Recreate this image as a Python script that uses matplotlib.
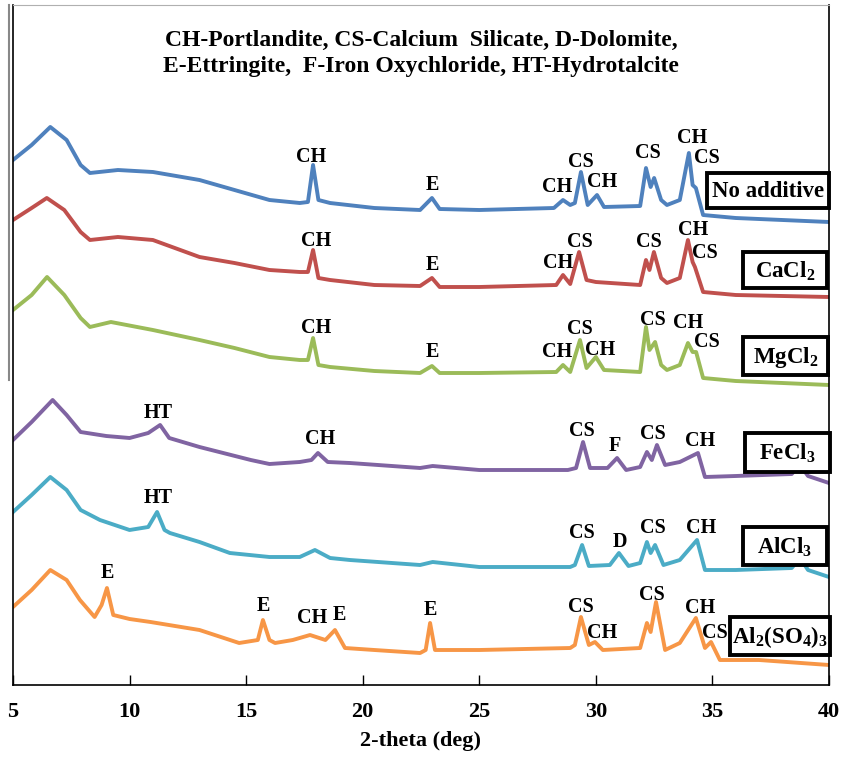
import matplotlib
matplotlib.use("Agg")
import matplotlib.pyplot as plt
from matplotlib.patches import Rectangle
from matplotlib.lines import Line2D

plt.rcParams['font.family'] = ['Liberation Serif', 'DejaVu Serif']
plt.rcParams['font.weight'] = 'bold'
plt.rcParams['mathtext.fontset'] = 'custom'
plt.rcParams['mathtext.rm'] = 'Liberation Serif:bold'
plt.rcParams['mathtext.bf'] = 'Liberation Serif:bold'

# XRD patterns, stacked (intensity in arbitrary units incl. offset)
tt_none = [5.0, 5.8, 6.6, 7.3, 7.9, 8.3, 9.5, 11.0, 13.0, 14.5, 16.0, 17.3, 17.65, 17.87, 18.1, 18.6,
           20.5, 22.46, 22.97, 23.3, 25.0, 28.2, 28.59, 28.9, 29.1, 29.36, 29.65, 30.05, 30.35, 31.9,
           32.15, 32.35, 32.5, 32.8, 33.05, 33.6, 33.99, 34.15, 34.29, 34.6, 36.0, 38.0, 40.0]
I_none = [552, 567, 585, 572, 547, 539, 542, 540, 532, 522, 512, 509, 510, 547, 512, 509,
          504, 502, 514, 503, 502, 504, 512, 507, 509, 540, 507, 517, 505, 506,
          544, 525, 534, 512, 507, 512, 559, 527, 524, 497, 494, 492, 490]

tt_ca = [5.0, 5.8, 6.45, 7.2, 7.9, 8.3, 9.5, 11.0, 13.0, 14.5, 16.0, 17.3, 17.65, 17.87, 18.1, 18.6,
         20.5, 22.46, 22.97, 23.3, 25.0, 28.3, 28.59, 28.9, 29.28, 29.6, 30.0, 31.9, 32.15, 32.3,
         32.49, 32.8, 33.05, 33.6, 33.95, 34.15, 34.25, 34.6, 36.0, 38.0, 40.0]
I_ca = [492, 504, 514, 502, 480, 472, 475, 472, 455, 449, 442, 440, 440, 462, 434, 432,
        427, 426, 434, 425, 425, 427, 437, 428, 460, 432, 430, 427, 452, 442,
        460, 434, 429, 434, 472, 450, 445, 420, 417, 416, 415]

tt_mg = [5.0, 5.8, 6.46, 7.2, 7.9, 8.3, 9.2, 11.0, 13.0, 14.5, 16.0, 17.3, 17.65, 17.87, 18.1, 18.6,
         20.5, 22.46, 22.97, 23.3, 25.0, 28.3, 28.59, 28.9, 29.32, 29.6, 30.0, 30.35, 31.9, 32.15,
         32.3, 32.54, 32.8, 33.05, 33.6, 33.95, 34.15, 34.3, 34.6, 36.0, 38.0, 40.0]
I_mg = [402, 417, 435, 417, 394, 385, 390, 382, 372, 364, 355, 352, 352, 374, 347, 345,
        341, 339, 346, 339, 339, 340, 347, 340, 372, 344, 355, 342, 340, 385,
        362, 370, 347, 342, 347, 369, 360, 360, 334, 331, 329, 327]

tt_fe = [5.0, 5.8, 6.7, 7.3, 7.9, 9.0, 10.0, 10.8, 11.31, 11.7, 13.0, 15.2, 16.0, 17.3, 17.8, 18.08,
         18.5, 19.45, 22.46, 23.0, 25.0, 28.8, 29.15, 29.45, 29.75, 30.5, 30.91, 31.3, 31.9, 32.19,
         32.4, 32.62, 32.97, 33.6, 34.38, 34.68, 36.0, 38.4, 38.76, 39.1, 40.0]
I_fe = [272, 290, 312, 297, 280, 276, 274, 279, 287, 274, 265, 252, 248, 250, 252, 259,
        250, 249, 244, 246, 242, 242, 244, 270, 244, 244, 254, 242, 245, 260,
        252, 267, 247, 250, 259, 235, 236, 238, 247, 236, 229]

tt_al = [5.0, 5.8, 6.6, 7.3, 7.9, 8.73, 10.0, 10.8, 11.18, 11.5, 11.73, 13.0, 14.3, 16.0, 17.3, 17.95,
         18.6, 19.45, 22.46, 23.0, 25.0, 28.9, 29.1, 29.41, 29.7, 30.6, 30.99, 31.4, 31.9, 32.19,
         32.35, 32.54, 32.9, 33.6, 34.34, 34.68, 36.0, 38.4, 38.76, 39.1, 40.0]
I_al = [200, 217, 235, 222, 202, 192, 182, 185, 200, 182, 179, 170, 159, 155, 155, 162,
        154, 152, 147, 150, 145, 145, 147, 167, 146, 147, 159, 146, 149, 170,
        159, 167, 147, 152, 172, 142, 142, 144, 154, 142, 135]

tt_so4 = [5.0, 5.8, 6.6, 7.3, 7.87, 8.5, 8.8, 9.03, 9.3, 10.0, 10.9, 13.0, 14.7, 15.5, 15.72, 16.0,
          16.24, 17.0, 17.74, 18.4, 18.81, 19.24, 20.5, 22.46, 22.7, 22.89, 23.1, 25.0, 28.9, 29.1,
          29.36, 29.7, 29.96, 30.3, 31.9, 32.19, 32.35, 32.58, 32.97, 33.6, 34.29, 34.68, 34.94,
          35.32, 37.0, 40.0]
I_so4 = [105, 122, 142, 132, 112, 95, 107, 124, 97, 93, 90, 82, 69, 72, 92, 72,
         69, 72, 77, 72, 82, 64, 62, 59, 62, 89, 62, 62, 64, 67,
         95, 67, 70, 62, 64, 89, 80, 110, 62, 69, 94, 64, 70,
         52, 52, 47]

series = [
    (tt_none, I_none, '#4F81BD'),
    (tt_ca, I_ca, '#C0504D'),
    (tt_mg, I_mg, '#9BBB59'),
    (tt_fe, I_fe, '#8064A2'),
    (tt_al, I_al, '#4BACC6'),
    (tt_so4, I_so4, '#F79646'),
]

# phase labels: (text, 2theta, y)
peak_labels = [
    ('CH', 17.8, 555), ('E', 22.97, 527), ('CH', 28.36, 525), ('CS', 29.36, 550), ('CH', 30.27, 530),
    ('CS', 32.24, 559), ('CH', 34.12, 574), ('CS', 34.77, 554),
    ('CH', 17.99, 471), ('E', 22.97, 447), ('CH', 28.38, 449), ('CS', 29.32, 470), ('CS', 32.28, 470),
    ('CH', 34.16, 482), ('CS', 34.68, 459),
    ('CH', 17.99, 384), ('E', 22.97, 360), ('CH', 28.33, 360), ('CS', 29.32, 383), ('CH', 30.18, 362),
    ('CS', 32.45, 392), ('CH', 33.95, 389), ('CS', 34.77, 370),
    ('HT', 11.22, 299), ('CH', 18.17, 273), ('CS', 29.41, 281), ('F', 30.82, 266), ('CS', 32.45, 278),
    ('CH', 34.47, 271),
    ('HT', 11.22, 214), ('CS', 29.41, 179), ('D', 31.03, 170), ('CS', 32.45, 184), ('CH', 34.51, 184),
    ('E', 9.03, 139), ('E', 15.72, 106), ('CH', 17.82, 94), ('E', 18.98, 97), ('E', 22.89, 102),
    ('CS', 29.36, 105), ('CH', 30.26, 79), ('CS', 32.41, 117), ('CH', 34.47, 104), ('CS', 35.11, 79),
]

# sample names in boxes: (text, left, right, bottom, top)
sample_boxes = [
    ('No additive', 34.77, 40.0, 504, 539),
    (r'CaCl$_2$', 36.31, 39.93, 424, 460),
    (r'MgCl$_2$', 36.31, 39.97, 337, 375),
    (r'FeCl$_3$', 36.4, 40.04, 240, 279),
    (r'AlCl$_3$', 36.31, 39.93, 147, 185),
    (r'Al$_2$(SO$_4$)$_3$', 35.75, 40.04, 57, 95),
]

fig = plt.figure(figsize=(8.42, 7.57), dpi=100)
ax = fig.add_axes([13 / 842, 72 / 757, 816 / 842, 680 / 757])

for tt, inten, c in series:
    ax.plot(tt, inten, color=c, lw=2.8, solid_joinstyle='round')

for txt, x, y in peak_labels:
    ax.text(x, y, txt, ha='center', va='center', fontsize=14.5, fontweight='bold')

for txt, x0, x1, y0, y1 in sample_boxes:
    ax.add_patch(Rectangle((x0, y0), x1 - x0, y1 - y0, fill=True, facecolor='white',
                           edgecolor='black', lw=2.8, clip_on=False, zorder=5))
    ax.text((x0 + x1) / 2, (y0 + y1) / 2 - 1, txt, ha='center', va='center', fontsize=16.5,
            fontweight='bold', zorder=6)

fig.text(0.5, 1 - 53.5 / 757, 'CH-Portlandite, CS-Calcium  Silicate, D-Dolomite,\nE-Ettringite,  F-Iron Oxychloride, HT-Hydrotalcite',
         ha='center', va='center', fontsize=17, fontweight='bold', linespacing=1.35)

ax.set_xlim(5, 40)
ax.set_ylim(27, 707)
ax.set_xticks([5, 10, 15, 20, 25, 30, 35, 40])
ax.set_xticklabels(['5', '10', '15', '20', '25', '30', '35', '40'])
ax.set_yticks([])
ax.tick_params(axis='x', direction='in', length=7, width=1, labelsize=16, pad=12)
for lab in ax.get_xticklabels():
    lab.set_fontweight('bold')
ax.set_xlabel('2-theta (deg)', fontsize=16, fontweight='bold', labelpad=7)

ax.spines['top'].set_color('#b0b0b0')
for s in ['left', 'right', 'bottom']:
    ax.spines[s].set_color('black')
    ax.spines[s].set_linewidth(1.2)

# stray vertical rule at the left edge of the original figure
fig.add_artist(Line2D([9 / 842, 9 / 842], [1 - 5 / 757, 1 - 380 / 757], color='#888888', lw=1.5))

fig.savefig('out.png', dpi=100)
